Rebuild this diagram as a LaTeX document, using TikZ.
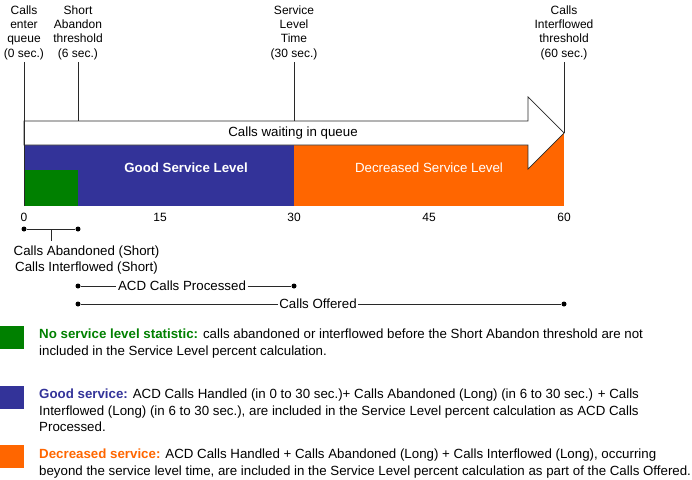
\documentclass[tikz,border=0pt]{standalone}
\usepackage{fontspec}
\setmainfont{Liberation Sans}
\definecolor{goodblue}{RGB}{51,51,153}
\definecolor{decorange}{RGB}{255,102,0}
\definecolor{nostatgreen}{RGB}{0,128,0}
\definecolor{edgegray}{RGB}{40,40,40}
\begin{document}
\begin{tikzpicture}[x=1pt,y=-1pt,
  toplabel/.style={font=\fontsize{12}{14.3}\selectfont, align=center, inner sep=0pt, anchor=north},
  axisnum/.style={font=\fontsize{12}{14}\selectfont, inner sep=0pt},
  bigtext/.style={font=\fontsize{13.3}{16}\selectfont},
  boldtext/.style={font={\fontsize{13.3}{16}\selectfont\bfseries}},
  rangetext/.style={bigtext, inner sep=1.5pt, fill=white},
  marker/.style={edgegray, line width=0.8pt},
  legendtext/.style={font=\fontsize{13.3}{16.3}\selectfont, align=left, inner sep=0pt, anchor=north west},
  swatch/.style={inner sep=0pt, minimum width=24pt, minimum height=23pt, anchor=north west},
  dot/.style={circle, fill=black, inner sep=0pt, minimum size=5pt}]
\path[use as bounding box] (0,0) rectangle (692,479);

% threshold labels above the time line
\node[toplabel] (t0)  at (24,5.5)  {Calls\\enter\\queue\\(0 sec.)};
\node[toplabel] (t6)  at (78,5.5)  {Short\\Abandon\\threshold\\(6 sec.)};
\node[toplabel] (t30) at (294,5.5) {Service\\Level\\Time\\(30 sec.)};
\node[toplabel] (t60) at (564,5.5) {Calls\\Interflowed\\threshold\\(60 sec.)};

% service level bands
\fill[decorange] (294,133) rectangle (564,206);
\fill[goodblue] (24,145) rectangle (294,206);
\fill[nostatgreen] (24,170) rectangle (78,206);

% queue arrow
\draw[edgegray, line width=0.7pt, fill=white]
  (24,121) -- (528,121) -- (528,97) -- (564,133) -- (528,169) -- (528,145) -- (24,145) -- cycle;
\node[bigtext] (queue) at (293,133) {Calls waiting in queue};

\node[boldtext, text=white] (good) at (186,168) {Good Service Level};
\node[bigtext, text=white] (dec) at (429,168) {Decreased Service Level};

% threshold lines
\coordinate (a0) at (24,62);
\coordinate (a6) at (78,62);
\coordinate (a30) at (294,62);
\coordinate (a60) at (564,62);
\coordinate (b0) at (24,206);
\coordinate (b6) at (78,121);
\coordinate (b30) at (294,121);
\coordinate (b60) at (564,133);
\draw[edgegray, line width=0.8pt] (a0) -- (b0);
\draw[edgegray, line width=0.8pt] (a6) -- (b6);
\draw[edgegray, line width=0.8pt] (a30) -- (b30);
\draw[edgegray, line width=0.8pt] (a60) -- (b60);

% time axis
\node[axisnum] (n0)  at (24,217)  {0};
\node[axisnum] (n15) at (160,217) {15};
\node[axisnum] (n30) at (294,217) {30};
\node[axisnum] (n45) at (429,217) {45};
\node[axisnum] (n60) at (564,217) {60};

% measured ranges
\node[dot] (s0) at (24,229) {};
\node[dot] (s6) at (78,229) {};
\draw[marker] (s0) -- (s6);
\coordinate (smid) at (51,229);
\coordinate (stick) at (51,241);
\draw[marker] (smid) -- (stick);
\node[font=\fontsize{13.3}{16}\selectfont, align=center, anchor=north, inner sep=0pt] (short) at (86.5,246)
  {Calls Abandoned (Short)\\Calls Interflowed (Short)};

\node[dot] (p6) at (78,286) {};
\node[dot] (p30) at (294,286) {};
\node[rangetext] (proc) at (182,286) {ACD Calls Processed};
\draw[marker] (p6) -- (proc.west);
\draw[marker] (proc.east) -- (p30);

\node[dot] (o6) at (78,304) {};
\node[dot] (o60) at (564,304) {};
\node[rangetext] (offer) at (318,304) {Calls Offered};
\draw[marker] (o6) -- (offer.west);
\draw[marker] (offer.east) -- (o60);

% legend
\node[swatch, fill=nostatgreen] (k1) at (0,326) {};
\node[legendtext] (l1) at (39,329)
  {\textcolor{nostatgreen}{\bfseries No service level statistic:} calls abandoned or interflowed before the Short Abandon threshold are not\\
   included in the Service Level percent calculation.};

\node[swatch, fill=goodblue] (k2) at (0,386) {};
\node[legendtext] (l2) at (39,389)
  {\textcolor{goodblue}{\bfseries Good service:} ACD Calls Handled (in 0 to 30 sec.)+ Calls Abandoned (Long) (in 6 to 30 sec.) + Calls\\
   Interflowed (Long) (in 6 to 30 sec.), are included in the Service Level percent calculation as ACD Calls\\
   Processed.};

\node[swatch, fill=decorange] (k3) at (0,445) {};
\node[legendtext] (l3) at (39,449)
  {\textcolor{decorange}{\bfseries Decreased service:} ACD Calls Handled + Calls Abandoned (Long) + Calls Interflowed (Long), occurring\\
   beyond the service level time, are included in the Service Level percent calculation as part of the Calls Offered.};
\end{tikzpicture}
\end{document}
